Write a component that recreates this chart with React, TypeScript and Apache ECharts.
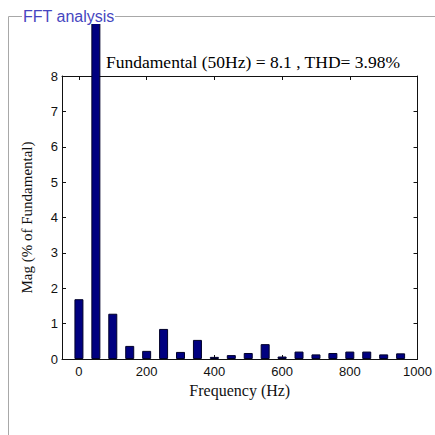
import React, { useEffect, useRef } from "react";
import * as echarts from "echarts";

const freqs = [0, 50, 100, 150, 200, 250, 300, 350, 400, 450, 500, 550, 600, 650, 700, 750, 800, 850, 900, 950];
const mags = [1.69, 100, 1.28, 0.37, 0.23, 0.85, 0.2, 0.54, 0.06, 0.11, 0.17, 0.42, 0.07, 0.21, 0.13, 0.17, 0.21, 0.21, 0.13, 0.16];
const xTicks = [0, 200, 400, 600, 800, 1000];
const titleText = "FFT analysis";
const annotation = "Fundamental (50Hz) = 8.1 , THD= 3.98%";
const xName = "Frequency (Hz)";
const yName = "Mag (% of Fundamental)";

export default function App() {
  const ref = useRef<HTMLDivElement>(null);
  useEffect(() => {
    if (!ref.current) return;
    const chart = echarts.init(ref.current, null, { renderer: "svg" });
    const axisLine = { show: true, onZero: false, lineStyle: { color: "#111", width: 1 } };
    const tickStyle = { inside: true, length: 4, lineStyle: { color: "#111" } };
    const lblFont = { fontFamily: "Liberation Sans", fontSize: 13, color: "#111" };
    chart.setOption({
      animation: false,
      backgroundColor: "#fff",
      grid: { left: 62, right: 17, top: 76, bottom: 76, containLabel: false },
      xAxis: [
        {
          type: "value",
          min: -50,
          max: 1000,
          axisLine,
          axisTick: { ...tickStyle, customValues: xTicks },
          axisLabel: { ...lblFont, customValues: xTicks, margin: 6, formatter: (v: number) => String(v) },
          splitLine: { show: false },
          name: xName,
          nameLocation: "middle",
          nameGap: 23,
          nameTextStyle: { fontFamily: "Liberation Serif", fontSize: 16, color: "#111" },
        },
        {
          type: "value",
          position: "top",
          min: -50,
          max: 1000,
          axisLine,
          axisTick: { ...tickStyle, customValues: xTicks },
          axisLabel: { show: false, customValues: xTicks },
          splitLine: { show: false },
        },
      ],
      yAxis: [
        {
          type: "value",
          min: 0,
          max: 8,
          interval: 1,
          axisLine,
          axisTick: tickStyle,
          axisLabel: { ...lblFont, margin: 4 },
          splitLine: { show: false },
          name: yName,
          nameLocation: "middle",
          nameGap: 28,
          nameTextStyle: { fontFamily: "Liberation Serif", fontSize: 15, color: "#111" },
        },
        {
          type: "value",
          position: "right",
          min: 0,
          max: 8,
          interval: 1,
          axisLine,
          axisTick: tickStyle,
          axisLabel: { show: false },
          splitLine: { show: false },
        },
      ],
      series: [
        {
          type: "bar",
          clip: false,
          barWidth: 9,
          data: freqs.map((f, i) => [f, mags[i]]),
          itemStyle: { color: "#000080", borderColor: "#00002a", borderWidth: 1 },
          z: 2,
        },
      ],
      graphic: [
        { type: "rect", z: 100, shape: { x: 0, y: 0, width: 435, height: 24 }, style: { fill: "#fff" } },
        { type: "line", z: 101, shape: { x1: 8.5, y1: 16.5, x2: 22, y2: 16.5 }, style: { stroke: "#a8a8a8", lineWidth: 1 } },
        { type: "line", z: 101, shape: { x1: 115, y1: 16.5, x2: 435, y2: 16.5 }, style: { stroke: "#a8a8a8", lineWidth: 1 } },
        { type: "line", z: 101, shape: { x1: 8.5, y1: 16.5, x2: 8.5, y2: 435 }, style: { stroke: "#a8a8a8", lineWidth: 1 } },
        {
          type: "text",
          z: 102,
          x: 23,
          y: 16,
          style: {
            text: titleText,
            fontFamily: "Liberation Sans",
            fontSize: 16,
            fill: "#4646c0",
            verticalAlign: "middle",
          },
        },
        {
          type: "text",
          z: 102,
          x: 106,
          y: 62,
          style: {
            text: annotation,
            fontFamily: "Liberation Serif",
            fontSize: 17.5,
            fill: "#000",
            verticalAlign: "middle",
          },
        },
      ],
    });
    return () => chart.dispose();
  }, []);
  return <div ref={ref} style={{ position: "fixed", left: 0, top: 0, width: 435, height: 435 }} />;
}
